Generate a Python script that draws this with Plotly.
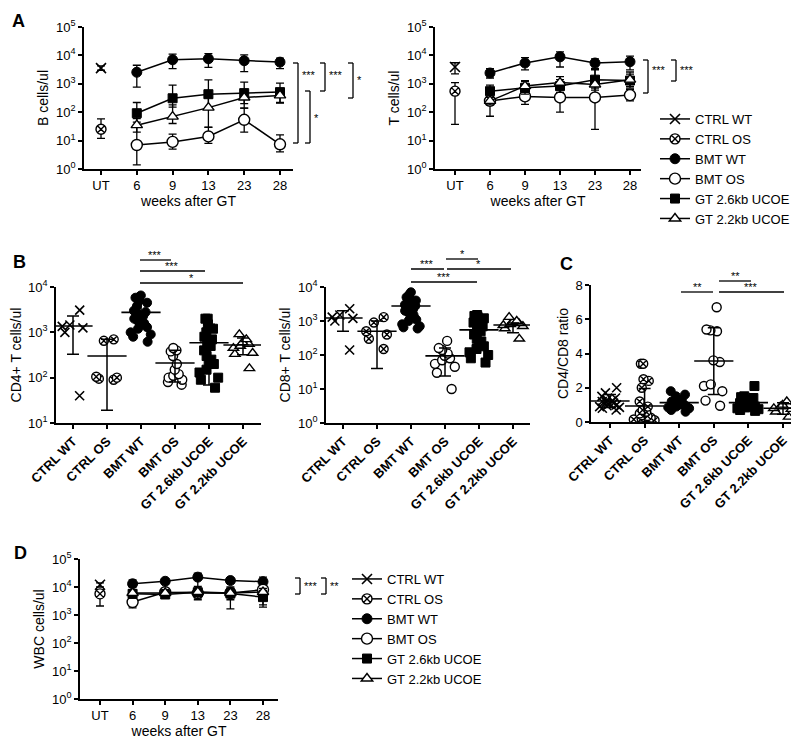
import numpy as np
import plotly.graph_objects as go

W, H = 800, 738
FONT = "Liberation Sans, Arial, sans-serif"

weeks = ["UT", "6", "9", "13", "23", "28"]
groups = ["CTRL WT", "CTRL OS", "BMT WT", "BMT OS", "GT 2.6kb UCOE", "GT 2.2kb UCOE"]
# controls were only measured untreated
tc_x = [["UT"], ["UT"], weeks[1:], weeks[1:], weeks[1:], weeks[1:]]

# A: B cells/ul, mean with upper / lower error bar ends
bcell_mean = [[3550], [25], [2550, 7000, 7600, 6500, 5800], [7, 9, 14, 54, 7.4],
              [92, 310, 430, 470, 510], [35, 70, 145, 330, 390]]
bcell_hi = [[4300], [58], [4500, 11000, 11500, 10500, 8000], [35, 17, 30, 140, 16],
            [220, 900, 1380, 1150, 1050], [60, 180, 320, 560, 560]]
bcell_lo = [[3000], [12], [760, 3400, 3800, 2700, 3400], [1.4, 5, 8, 20, 4],
            [45, 150, 140, 200, 210], [20, 40, 29, 140, 220]]

# A: T cells/ul
tcell_mean = [[3900], [550], [2400, 5400, 8900, 5400, 6000], [250, 360, 330, 330, 400],
              [550, 720, 830, 1400, 1300], [250, 830, 1100, 950, 1400]]
tcell_hi = [[5500], [1100], [3400, 8300, 13400, 7600, 9500], [350, 630, 1200, 3500, 630],
            [900, 1200, 1400, 3200, 2600], [330, 1300, 1800, 1500, 2200]]
tcell_lo = [[2250], [37], [1600, 3100, 3900, 3100, 3100], [72, 190, 100, 25, 250],
            [330, 430, 500, 700, 700], [180, 500, 650, 600, 800]]

# D: WBC cells/ul
wbc_mean = [[12000], [5700], [13000, 16000, 22500, 17000, 15500], [2900, 6500, 6100, 6100, 8000],
            [5700, 5400, 6500, 5800, 4350], [6100, 6100, 6600, 6100, 6600]]
wbc_hi = [[14000], [8000], [18000, 19000, 31000, 20000, 22500], [4000, 9000, 8000, 9000, 11000],
          [8000, 7000, 9000, 10000, 7500], [8000, 8000, 9000, 9000, 9000]]
wbc_lo = [[10000], [2100], [10000, 13000, 10500, 14000, 10000], [1800, 4000, 4000, 1650, 2300],
          [4000, 4000, 3500, 3500, 1900], [4500, 4500, 4500, 4500, 4500]]

# B: CD4+ T cells/ul, individual mice
cd4_pts = [
    [3100, 1450, 1350, 1250, 1000, 40],
    [700, 650, 105, 100, 95, 90],
    [6500, 6000, 5800, 5000, 4500, 3800, 3000, 2800, 2500, 2300, 2000, 1800, 1600, 1500, 1300, 1200, 1000, 900, 800, 620],
    [450, 400, 380, 300, 200, 150, 120, 110, 100, 90, 80, 70],
    [2000, 2000, 1500, 1200, 1000, 800, 700, 600, 500, 400, 300, 250, 200, 200, 150, 130, 100, 90, 60],
    [900, 700, 600, 550, 500, 450, 350, 330, 160],
]
cd4_mean = [1380, 300, 2750, 210, 590, 525]
cd4_hi = [2300, 700, 4600, 400, 1500, 750]
cd4_lo = [330, 19, 1500, 80, 69, 320]

# B: CD8+ T cells/ul
cd8_pts = [
    [2300, 1500, 1300, 1200, 1000, 140],
    [1300, 900, 500, 400, 300, 150],
    [7000, 6000, 5000, 4500, 4000, 3500, 3000, 2800, 2500, 2200, 2000, 1800, 1500, 1300, 1100, 1000, 800, 700, 650, 600],
    [260, 160, 140, 110, 95, 80, 70, 55, 45, 30, 10],
    [1500, 1400, 1300, 1200, 1000, 900, 700, 600, 500, 400, 300, 250, 200, 180, 150, 120, 100, 80, 60],
    [1300, 1000, 900, 850, 800, 750, 700, 600, 300],
]
cd8_mean = [1230, 500, 2750, 94, 550, 760]
cd8_hi = [2000, 1000, 4500, 160, 1000, 870]
cd8_lo = [500, 40, 1230, 24, 200, 450]

# C: CD4/CD8 ratio
ratio_pts = [
    [2.0, 1.7, 1.5, 1.4, 1.3, 1.25, 1.2, 1.15, 1.1, 1.05, 1.0, 0.95, 0.9, 0.85, 0.8, 0.7],
    [3.4, 3.4, 2.5, 2.4, 2.0, 1.2, 0.9, 0.7, 0.6, 0.5, 0.4, 0.35, 0.3, 0.25, 0.2, 0.15, 0.1, 0.05, 0.02],
    [1.8, 1.6, 1.5, 1.3, 1.2, 1.1, 1.05, 1.0, 0.95, 0.9, 0.85, 0.8, 0.7, 0.6],
    [6.7, 5.4, 5.35, 5.3, 3.6, 3.5, 2.2, 2.1, 1.8, 1.25, 0.95],
    [2.1, 1.5, 1.45, 1.4, 1.3, 1.2, 1.1, 1.05, 1.0, 0.95, 0.9, 0.85, 0.8, 0.75, 0.7, 0.65],
    [1.2, 1.0, 0.95, 0.9, 0.8, 0.75, 0.6, 0.3],
]
ratio_mean = [1.23, 0.93, 1.13, 3.56, 1.13, 0.8]
ratio_hi = [1.6, 1.95, 1.4, 5.5, 1.5, 1.13]
ratio_lo = [0.85, 0.0, 0.85, 1.6, 0.65, 0.45]

sym = [
    dict(symbol="x-thin", size=10, color="black", line=dict(color="black", width=1.6)),
    dict(symbol="circle-x", size=10, color="white", line=dict(color="black", width=1.4)),
    dict(symbol="circle", size=10, color="black", line=dict(color="black", width=1)),
    dict(symbol="circle", size=11, color="white", line=dict(color="black", width=1.4)),
    dict(symbol="square", size=9, color="black", line=dict(color="black", width=1)),
    dict(symbol="triangle-up", size=10, color="white", line=dict(color="black", width=1.4)),
]


def fx(px):
    return px / W


def fy(py):
    return 1 - py / H


fig = go.Figure()


def add_time_course(mean, hi, lo, xa, ya, legend=None):
    for i, g in enumerate(groups):
        m = np.array(mean[i], dtype=float)
        fig.add_trace(go.Scatter(
            x=tc_x[i], y=mean[i], mode="lines+markers", name=g,
            line=dict(color="black", width=1.5), marker=sym[i],
            error_y=dict(type="data", array=list(np.array(hi[i]) - m),
                         arrayminus=list(m - np.array(lo[i])),
                         color="black", thickness=1.3, width=4),
            xaxis=xa, yaxis=ya, showlegend=legend is not None,
            legend=legend or "legend"))


def add_strip(pts, mean, hi, lo, xa, ya):
    for i, g in enumerate(groups):
        mk = dict(sym[i])
        mk["size"] = 9
        fig.add_trace(go.Box(
            x=[g] * len(pts[i]), y=pts[i], boxpoints="all", jitter=1, pointpos=0,
            width=0.75, fillcolor="rgba(0,0,0,0)", whiskerwidth=0,
            line=dict(width=0, color="rgba(0,0,0,0)"), marker=mk,
            showlegend=False, xaxis=xa, yaxis=ya))
    m = np.array(mean, dtype=float)
    fig.add_trace(go.Scatter(
        x=groups, y=mean, mode="markers",
        marker=dict(symbol="line-ew", size=28, line=dict(color="black", width=1.6)),
        error_y=dict(type="data", array=list(np.array(hi) - m), arrayminus=list(m - np.array(lo)),
                     color="black", thickness=1.5, width=6),
        showlegend=False, xaxis=xa, yaxis=ya))


add_time_course(bcell_mean, bcell_hi, bcell_lo, "x", "y", legend="legend")
add_time_course(tcell_mean, tcell_hi, tcell_lo, "x2", "y2")
add_strip(cd4_pts, cd4_mean, cd4_hi, cd4_lo, "x3", "y3")
add_strip(cd8_pts, cd8_mean, cd8_hi, cd8_lo, "x4", "y4")
add_strip(ratio_pts, ratio_mean, ratio_hi, ratio_lo, "x5", "y5")
add_time_course(wbc_mean, wbc_hi, wbc_lo, "x6", "y6", legend="legend2")

common = dict(showline=True, linecolor="black", linewidth=1.5, ticks="outside", ticklen=4,
              tickwidth=1.5, tickcolor="black", showgrid=False, zeroline=False,
              tickfont=dict(size=13, color="black"), automargin=False)


def ylog(top, bottom, lo, hi, title, anchor):
    return dict(domain=[fy(bottom), fy(top)], type="log", range=[lo, hi], anchor=anchor,
                tickvals=[10 ** k for k in range(lo, hi + 1)],
                ticktext=[f"10<sup>{k}</sup>" for k in range(lo, hi + 1)],
                title=dict(text=title, font=dict(size=14), standoff=4), **common)


def xcat(left, right, cats, first, last, anchor, title=None, bold=False, standoff=4):
    step = (last - first) / (len(cats) - 1)
    d = dict(domain=[fx(left), fx(right)], type="category", categoryorder="array",
             categoryarray=cats, range=[(left - first) / step, (right - first) / step],
             anchor=anchor, **common)
    if title:
        d["title"] = dict(text=title, font=dict(size=14), standoff=standoff)
    if bold:
        d["tickangle"] = -45
        d["tickfont"] = dict(size=13, color="black", family=FONT, weight="bold")
    return d


layout = dict(
    width=W, height=H, margin=dict(l=0, r=0, t=0, b=0),
    plot_bgcolor="white", paper_bgcolor="white", template="none",
    font=dict(family=FONT, color="black", size=13),
    boxmode="overlay",
    xaxis=xcat(76, 285, weeks, 93, 272, "y", "weeks after GT"),
    yaxis=ylog(19, 161, 0, 5, "B cells/ul", "x"),
    xaxis2=xcat(427, 633, weeks, 447, 622, "y2", "weeks after GT"),
    yaxis2=ylog(19, 161, 0, 5, "T cells/ul", "x2"),
    xaxis3=xcat(48, 253, groups, 65, 235, "y3", bold=True),
    yaxis3=ylog(279, 415, 1, 4, "CD4+ T cells/ul", "x3"),
    xaxis4=xcat(318, 522, groups, 335, 505, "y4", bold=True),
    yaxis4=ylog(279, 415, 0, 4, "CD8+ T cells/ul", "x4"),
    xaxis5=xcat(583, 783, groups, 602, 775, "y5", bold=True),
    yaxis5=dict(domain=[fy(414), fy(277)], range=[0, 8], dtick=2, anchor="x5",
                title=dict(text="CD4/CD8 ratio", font=dict(size=14), standoff=4), **common),
    xaxis6=xcat(72, 270, weeks, 92, 255, "y6", "weeks after GT", standoff=0),
    yaxis6=ylog(551, 691, 0, 5, "WBC cells/ul", "x6"),
    legend=dict(x=fx(647), y=fy(96), xanchor="left", yanchor="top",
                font=dict(size=13, color="black"),
                bgcolor="rgba(0,0,0,0)", tracegroupgap=0),
    legend2=dict(x=fx(339), y=fy(556), xanchor="left", yanchor="top",
                 font=dict(size=13, color="black"),
                 bgcolor="rgba(0,0,0,0)", tracegroupgap=0),
)
fig.update_layout(**layout)

shapes = []
annos = []


def seg(x0, y0, x1, y1):
    shapes.append(dict(type="line", xref="paper", yref="paper", x0=fx(x0), y0=fy(y0),
                       x1=fx(x1), y1=fy(y1), line=dict(color="black", width=1.3)))


def stars(x, y, t, anchor="left"):
    annos.append(dict(x=fx(x), y=fy(y), xref="paper", yref="paper", text=t, showarrow=False,
                      xanchor=anchor, yanchor="middle", font=dict(size=11, color="black")))


def bracket(x, y0, y1):
    seg(x - 5, y0, x, y0)
    seg(x, y0, x, y1)
    seg(x - 5, y1, x, y1)


# A, B cells
bracket(290, 55, 135); stars(292, 67, "***")
bracket(302, 83, 135); stars(304, 110, "*")
bracket(317, 55, 83); stars(319, 67, "***")
bracket(345, 55, 90); stars(347, 72, "*")
# A, T cells
bracket(640, 52, 85); stars(642, 62, "***")
bracket(668, 52, 73); stars(670, 62, "***")
# B, CD4
seg(132, 252, 163, 252); stars(147, 247, "***", "center")
seg(132, 263, 197, 263); stars(164, 258, "***", "center")
seg(132, 275, 235, 275); stars(183, 270, "*", "center")
# B, CD8
seg(438, 251, 470, 251); stars(454, 246, "*", "center")
seg(403, 261, 436, 261); stars(419, 256, "***", "center")
seg(439, 261, 503, 261); stars(470, 256, "*", "center")
seg(403, 274, 469, 274); stars(436, 269, "***", "center")
# C
seg(711, 273, 743, 273); stars(727, 268, "**", "center")
seg(673, 284, 705, 284); stars(689, 279, "**", "center")
seg(711, 284, 776, 284); stars(743, 279, "***", "center")
# D
bracket(292, 570, 586); stars(294, 578, "***")
bracket(318, 570, 586); stars(320, 578, "**")

for t, x, y in [("A", 10, 13), ("B", 11, 254), ("C", 558, 256), ("D", 12, 545)]:
    annos.append(dict(x=fx(x), y=fy(y), xref="paper", yref="paper", text=f"<b>{t}</b>",
                      showarrow=False, xanchor="center", yanchor="middle",
                      font=dict(size=18, color="black", family=FONT)))

fig.update_layout(shapes=shapes, annotations=annos)
fig.write_html("out.html")
